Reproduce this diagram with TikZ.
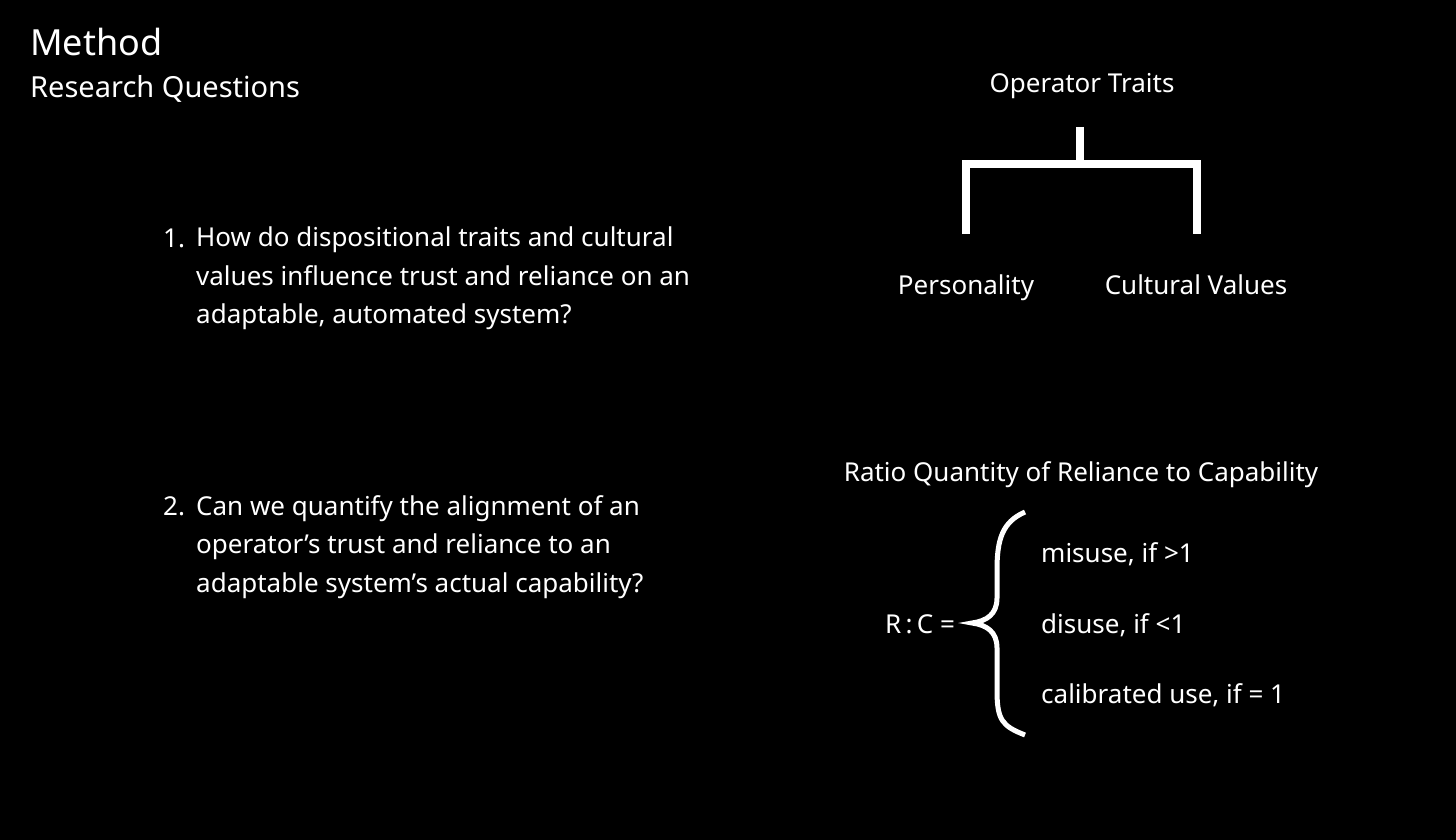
\documentclass[tikz,border=0pt]{standalone}
\usepackage{fontspec}
\setmainfont{Noto Sans}
\usetikzlibrary{positioning}
\tikzset{
  txt/.style={text=white, inner sep=0pt, anchor=base, font=\fontsize{26}{38.5}\selectfont},
  para/.style={txt, align=left, anchor=north west},
  bar/.style={draw=white, line width=8pt},
}
\begin{document}
\begin{tikzpicture}[x=1pt,y=-1pt]
    \fill[black] (0,0) rectangle (1456,840);
    \useasboundingbox (0,0) rectangle (1456,840);
    % headings
    \node[txt, anchor=base west, font=\fontsize{36}{40}\selectfont] (method) at (30,56) {Method};
    \node[txt, anchor=base west, font=\fontsize{29}{32}\selectfont] (rq) at (30,98) {Research Questions};
    % questions
    \node[txt, anchor=base west] (n1) at (163,247) {1.};
    \node[para] (q1) at (196,227) {How do dispositional traits and cultural\\values influence trust and reliance on an\\adaptable, automated system?};
    \node[txt, anchor=base west] (n2) at (163,515) {2.};
    \node[para] (q2) at (196,495) {Can we quantify the alignment of an\\operator’s trust and reliance to an\\adaptable system’s actual capability?};
    % traits tree
    \node[txt] (traits) at (1082,93) {Operator Traits};
    \node[txt] (pers) at (966,294) {Personality};
    \node[txt] (cult) at (1196,294) {Cultural Values};
    \coordinate (top) at (1080,127);
    \coordinate (mid) at (1080,164);
    \draw[bar] (top) -- (mid);
    \draw[bar, line cap=butt] (966,234) -- (966,164) -- (1197,164) -- (1197,234);
    % ratio
    \node[txt] (ratio) at (1081,481) {Ratio Quantity of Reliance to Capability};
    \node[txt] (rc) at (920,633) {R\,:\,C =};
    \node[txt, anchor=base west] (misuse) at (1041,562) {misuse, if >1};
    \node[txt, anchor=base west] (disuse) at (1041,633) {disuse, if <1};
    \node[txt, anchor=base west] (calib) at (1041,703) {calibrated use, if = 1};
    \draw[white, line width=5pt] (1025,512) .. controls (1002,522) and (997,540) .. (997,570)
        -- (997,598) .. controls (997,614) and (987,621) .. (972,623)
        .. controls (987,625) and (997,632) .. (997,648)
        -- (997,690) .. controls (997,720) and (1002,726) .. (1025,735);
\end{tikzpicture}
\end{document}
